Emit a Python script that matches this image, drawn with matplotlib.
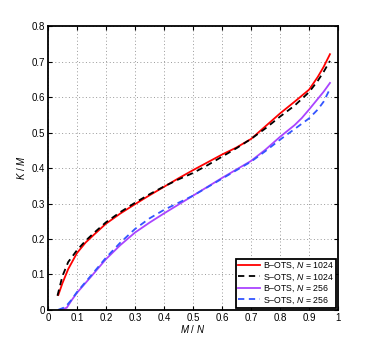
import matplotlib
matplotlib.use("Agg")
import matplotlib.pyplot as plt
from matplotlib.ticker import FuncFormatter

plt.rcParams['font.family'] = ['Liberation Sans', 'DejaVu Sans']
plt.rcParams['mathtext.fontset'] = 'custom'
plt.rcParams['mathtext.it'] = 'Liberation Sans:italic'
plt.rcParams['mathtext.rm'] = 'Liberation Sans'

# B-OTS, N = 1024
x_b1024 = [0.036, 0.05, 0.07, 0.1, 0.13, 0.16, 0.2, 0.25, 0.3, 0.35, 0.4, 0.45, 0.5,
           0.55, 0.6, 0.65, 0.7, 0.75, 0.8, 0.85, 0.9, 0.93, 0.95, 0.972]
y_b1024 = [0.042, 0.075, 0.115, 0.16, 0.19, 0.213, 0.243, 0.272, 0.298, 0.323, 0.347, 0.371, 0.394,
           0.416, 0.438, 0.458, 0.482, 0.518, 0.554, 0.587, 0.621, 0.657, 0.685, 0.721]

# S-OTS, N = 1024
x_s1024 = [0.033, 0.05, 0.07, 0.1, 0.13, 0.16, 0.2, 0.25, 0.3, 0.35, 0.4, 0.45, 0.5,
           0.55, 0.6, 0.65, 0.7, 0.75, 0.8, 0.85, 0.9, 0.93, 0.95, 0.972]
y_s1024 = [0.04, 0.095, 0.135, 0.168, 0.195, 0.218, 0.247, 0.276, 0.302, 0.326, 0.348, 0.368, 0.386,
           0.408, 0.432, 0.456, 0.482, 0.512, 0.545, 0.576, 0.614, 0.646, 0.671, 0.702]

# B-OTS, N = 256
x_b256 = [0.04, 0.065, 0.08, 0.1, 0.15, 0.2, 0.25, 0.3, 0.35, 0.4, 0.45, 0.5,
          0.55, 0.6, 0.65, 0.7, 0.75, 0.8, 0.85, 0.875, 0.9, 0.93, 0.95, 0.972]
y_b256 = [0.0, 0.006, 0.025, 0.048, 0.095, 0.143, 0.183, 0.218, 0.246, 0.272, 0.297, 0.322,
          0.347, 0.372, 0.396, 0.42, 0.452, 0.488, 0.521, 0.541, 0.565, 0.595, 0.615, 0.64]

# S-OTS, N = 256
x_s256 = [0.035, 0.06, 0.08, 0.1, 0.15, 0.2, 0.25, 0.3, 0.35, 0.4, 0.45, 0.5,
          0.55, 0.6, 0.65, 0.7, 0.75, 0.8, 0.85, 0.9, 0.93, 0.95, 0.97]
y_s256 = [0.0, 0.008, 0.027, 0.05, 0.098, 0.147, 0.19, 0.228, 0.258, 0.282, 0.302, 0.322,
          0.346, 0.37, 0.394, 0.418, 0.448, 0.48, 0.51, 0.54, 0.565, 0.587, 0.62]

fig = plt.figure(figsize=(3.74, 3.49), dpi=100)
ax = fig.add_axes([0.128, 0.112, 0.776, 0.813])

ax.plot(x_b1024, y_b1024, color='red', lw=1.3, label='B\u2013OTS, $N$ = 1024')
ax.plot(x_s1024, y_s1024, color='black', lw=1.3, ls=(0, (3.5, 2.5)), label='S\u2013OTS, $N$ = 1024')
ax.plot(x_b256, y_b256, color='#aa44ff', lw=1.3, label='B\u2013OTS, $N$ = 256')
ax.plot(x_s256, y_s256, color='#3355ff', lw=1.3, ls=(0, (3.5, 2.5)), label='S\u2013OTS, $N$ = 256')

ax.set_xlim(0, 1)
ax.set_ylim(0, 0.8)
ax.set_xticks([i / 10 for i in range(11)])
ax.set_yticks([i / 10 for i in range(9)])
fmt = FuncFormatter(lambda v, p: '%g' % round(v, 2))
ax.xaxis.set_major_formatter(fmt)
ax.yaxis.set_major_formatter(fmt)
ax.tick_params(direction='in', top=True, right=True, labelsize=7, length=3, width=0.8, pad=2)
ax.grid(True, color='#999999', ls=(0, (1, 2.5)), lw=0.7)
for s in ax.spines.values():
    s.set_linewidth(1.3)

ax.set_xlabel('$M$ / $N$', fontsize=7, labelpad=0)
ax.set_ylabel('$K$ / $M$', fontsize=7, labelpad=3)

leg = ax.legend(loc='lower right', fontsize=6.3, fancybox=False, framealpha=1,
                edgecolor='black', handlelength=2.5, handletextpad=0.3,
                borderpad=0.25, labelspacing=0.12, borderaxespad=0.25)
leg.get_frame().set_linewidth(1.3)

fig.savefig('out.png', dpi=100)
